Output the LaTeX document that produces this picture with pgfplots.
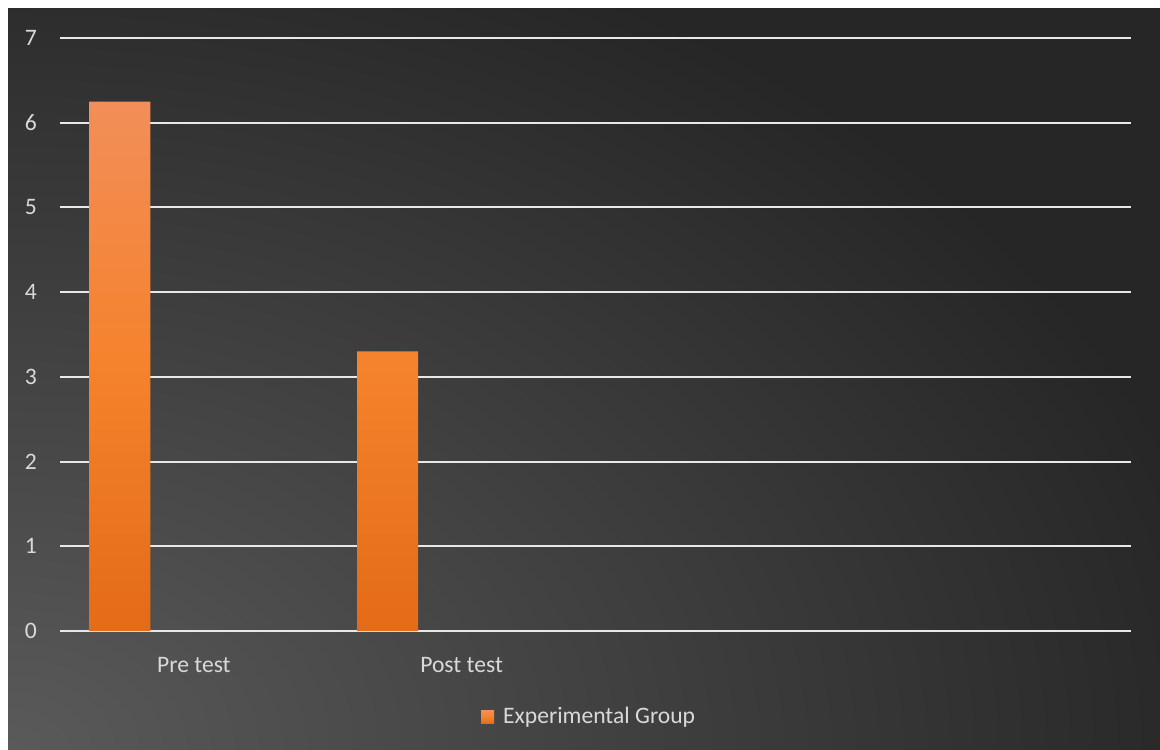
\documentclass[border=0pt]{standalone}
\usepackage{pgfplots}
\pgfplotsset{compat=1.18}
\usepackage{fontspec}
\setmainfont{Carlito}
\definecolor{bgdark}{HTML}{262626}
\definecolor{bglight}{HTML}{5A5A5A}
\definecolor{txt}{HTML}{D9D9D9}
\definecolor{gridc}{HTML}{E8E8E8}
\definecolor{bartop}{HTML}{F28E58}
\definecolor{barmid}{HTML}{F5822C}
\definecolor{barbot}{HTML}{E46B18}
\definecolor{legc}{HTML}{EE7A30}
\begin{document}
\begin{tikzpicture}
\useasboundingbox (0,0) rectangle (580pt,374.5pt);
\fill[bgdark] (0,0) rectangle (580pt,374.5pt);
\begin{scope}
\clip (4pt,0) rectangle (580pt,370.5pt);
\shade[inner color=bglight, outer color=bgdark] (4pt,0) ellipse (620pt and 430pt);
\end{scope}
\fill[white] (0,370.5pt) rectangle (580pt,374.5pt);
\fill[white] (0,0) rectangle (4pt,374.5pt);
\begin{axis}[
  at={(30pt,59pt)}, anchor=south west,
  scale only axis, width=535.5pt, height=296.5pt,
  ybar, bar width=30.5pt, bar shift=-37pt,
  xmin=-0.5, xmax=3.5, ymin=0, ymax=7,
  xtick={0,1}, xticklabels={Pre test, Post test},
  ytick={0,1,...,7},
  major tick length=0pt,
  axis line style={draw=none},
  ymajorgrids, grid style={gridc, line width=1pt},
  tick label style={font=\fontsize{11.8}{13}\selectfont, text=txt},
  /pgf/number format/assume math mode=true,
  yticklabel style={xshift=-8pt},
  xticklabel style={yshift=-9.5pt},
  legend style={at={(0.495,-0.145)}, anchor=center, draw=none, fill=none,
    text=txt, font=\fontsize{11.8}{13}\selectfont},
  legend image code/.code={\fill[legc] (0pt,-3.25pt) rectangle (6.5pt,3.25pt);},
]
\addplot[draw=none, top color=bartop, bottom color=barbot, middle color=barmid] coordinates {(0,6.25) (1,3.3)};
\addlegendentry{\hspace{2.5pt}Experimental Group}
\end{axis}
\end{tikzpicture}
\end{document}
